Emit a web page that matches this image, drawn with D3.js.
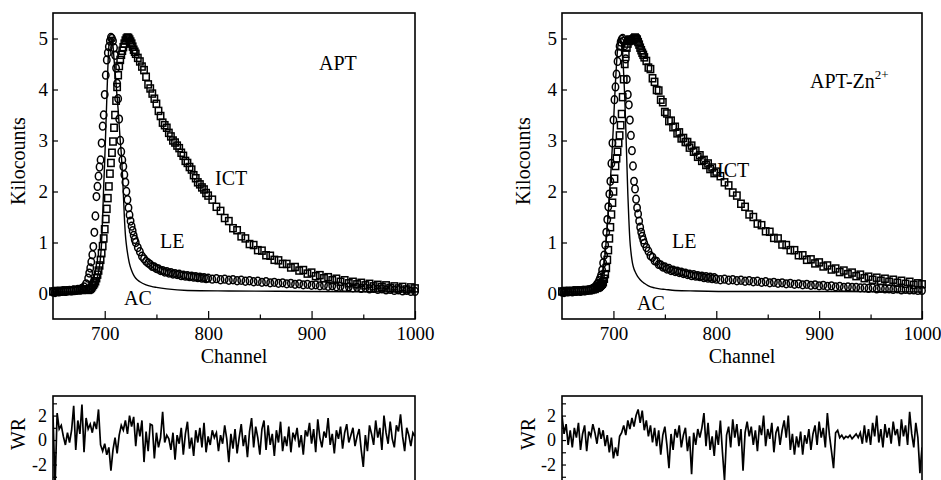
<!DOCTYPE html>
<html>
<head>
<meta charset="utf-8">
<script src="https://cdn.jsdelivr.net/npm/d3@7"></script>
<style>
  body { margin: 0; background: #fff; }
  svg { display: block; }
  svg text { font-family: "Liberation Serif", "Times New Roman", serif !important; }
</style>
</head>
<body>
<svg id="chart" width="941" height="480"></svg>
<script>
// channel grid of the measured decays (denser around the peak)
const channels = [650,652,654,656,658,660,662,664,666,668,670,672,674,676,678,680,682,684,
  685,686,687,688,689,690,691,692,693,694,695,696,697,698,699,700,701,702,703,704,705,706,707,708,709,
  710,711,712,713,714,715,716,717,718,719,720,721,722,723,724,725,726,727,728,729,730,
  732,734,736,738,740,742,744,746,748,750,752,754,756,758,760,762,764,766,768,770,772,774,776,778,780,
  782,784,786,788,790,792,794,796,798,800,
  804,808,812,816,820,824,828,832,836,840,844,848,852,856,860,864,868,872,876,880,884,888,892,896,900,
  904,908,912,916,920,924,928,932,936,940,944,948,952,956,960,964,968,972,976,980,984,988,992,996,1000];

// APT, kilocounts
const leLeft = [0.03,0.02,0.04,0.03,0.04,0.05,0.04,0.05,0.06,0.05,0.07,0.06,0.08,0.08,0.1,0.13,0.19,0.3,
  0.4,0.5,0.62,0.76,0.92,1.2,1.52,1.9,2.1,2.3,2.48,2.62,2.95,3.28,3.5,3.9,4.28,4.58,4.72,4.84,4.95,5.02,5.0,
  4.95,4.82,4.67,4.42,4.12,3.82,3.42,3.0,2.78,2.62,2.49,2.33,2.18,2.0,1.84,1.68,1.54,1.42,1.32,1.23,1.14,1.06,1.0,
  0.9,0.82,0.73,0.68,0.63,0.6,0.57,0.53,0.52,0.49,0.48,0.45,0.45,0.42,0.43,0.4,0.41,0.38,0.39,0.37,0.38,0.35,
  0.36,0.34,0.35,0.33,0.34,0.32,0.33,0.31,0.32,0.3,0.31,0.29,0.3,
  0.28,0.29,0.27,0.28,0.26,0.27,0.25,0.26,0.24,0.25,0.23,0.24,0.22,0.23,0.21,0.22,0.2,0.21,0.19,0.2,0.18,0.19,
  0.17,0.18,0.16,0.17,0.15,0.16,0.14,0.15,0.13,0.14,0.12,0.13,0.11,0.12,0.1,0.11,0.09,0.1,0.08,0.09,0.07,0.08,
  0.06,0.07,0.05,0.06,0.04,0.04];
const ictLeft = [0.04,0.03,0.05,0.04,0.05,0.04,0.06,0.05,0.06,0.05,0.06,0.07,0.06,0.07,0.07,0.08,0.08,0.07,
  0.08,0.09,0.11,0.14,0.17,0.2,0.24,0.3,0.37,0.45,0.55,0.66,0.79,0.93,1.08,1.26,1.46,1.66,1.87,2.1,
  2.35,2.56,2.76,2.98,3.25,3.5,3.78,4.05,4.28,4.46,4.58,4.68,4.76,4.83,4.9,4.96,5.0,5.02,5.01,4.98,
  4.94,4.9,4.84,4.78,4.74,4.7,
  4.62,4.55,4.45,4.38,4.25,4.1,4.02,3.92,3.82,3.72,3.58,3.48,3.35,3.3,3.25,3.15,3.08,3.0,2.96,2.9,
  2.85,2.76,2.7,2.6,2.56,2.48,2.43,2.32,2.26,2.18,2.14,2.08,2.04,1.97,1.92,
  1.84,1.7,1.62,1.48,1.42,1.28,1.24,1.12,1.08,0.97,0.95,0.85,0.84,0.75,0.74,0.66,0.65,0.58,0.58,0.51,
  0.52,0.45,0.46,0.39,0.41,0.34,0.36,0.3,0.32,0.26,0.29,0.23,0.26,0.2,0.23,0.18,0.21,0.16,0.19,0.14,
  0.17,0.13,0.16,0.11,0.14,0.1,0.13,0.08,0.12,0.1];

// APT-Zn2+, kilocounts
const leRight = [0.03,0.02,0.04,0.03,0.04,0.03,0.05,0.04,0.05,0.04,0.06,0.05,0.06,0.07,0.08,0.1,0.13,0.18,
  0.2,0.25,0.3,0.36,0.46,0.6,0.75,0.95,1.2,1.45,1.7,1.95,2.2,2.55,2.95,3.4,3.8,4.05,4.3,4.55,4.72,4.85,
  4.93,4.98,5.0,4.95,4.86,4.6,4.2,3.9,3.7,3.4,3.1,2.8,2.5,2.2,2.05,1.85,1.68,1.56,1.42,1.3,1.2,1.12,1.05,0.98,
  0.9,0.83,0.74,0.71,0.64,0.63,0.57,0.56,0.52,0.52,0.48,0.49,0.45,0.46,0.43,0.44,0.41,0.42,0.39,0.4,
  0.37,0.38,0.35,0.37,0.34,0.35,0.33,0.34,0.31,0.33,0.3,0.32,0.29,0.31,0.28,
  0.27,0.28,0.26,0.27,0.25,0.26,0.24,0.25,0.23,0.24,0.22,0.23,0.21,0.22,0.2,0.21,0.19,0.2,0.18,0.19,
  0.17,0.18,0.16,0.17,0.15,0.16,0.14,0.15,0.13,0.14,0.12,0.13,0.12,0.12,0.11,0.11,0.1,0.11,0.09,0.1,
  0.09,0.09,0.08,0.09,0.07,0.08,0.07,0.07,0.06,0.06];
const ictRight = [0.04,0.03,0.05,0.04,0.05,0.04,0.05,0.06,0.05,0.06,0.05,0.06,0.07,0.06,0.07,0.08,0.09,0.11,
  0.12,0.13,0.15,0.17,0.19,0.22,0.29,0.38,0.5,0.66,0.85,1.08,1.3,1.55,1.78,2.0,2.25,2.5,2.65,2.78,
  2.95,3.1,3.3,3.52,3.85,4.2,4.5,4.7,4.82,4.9,4.95,4.98,4.97,4.96,4.98,5.0,5.02,5.0,4.98,4.93,
  4.88,4.82,4.77,4.72,4.68,4.63,
  4.56,4.43,4.4,4.22,4.15,3.99,3.98,3.8,3.75,3.56,3.53,3.38,3.39,3.26,3.27,3.14,3.16,3.04,3.05,2.97,
  2.97,2.86,2.9,2.78,2.8,2.68,2.71,2.6,2.62,2.52,2.55,2.44,2.47,2.36,2.39,
  2.3,2.18,2.12,1.98,1.92,1.76,1.7,1.55,1.5,1.37,1.34,1.22,1.21,1.09,1.08,0.96,0.95,0.85,0.85,0.75,
  0.75,0.66,0.67,0.59,0.61,0.53,0.55,0.47,0.49,0.42,0.45,0.38,0.41,0.34,0.37,0.3,0.33,0.27,0.31,0.25,
  0.29,0.23,0.27,0.21,0.25,0.19,0.23,0.17,0.2,0.18];

// instrument response (AC) curves
const acChannels = [650,670,680,685,688,690,692,694,696,697,698,699,700,701,702,703,704,705,706,707,
  708,709,710,711,712,713,714,715,716,717,718,719,720,721,722,723,724,726,728,730,734,740,745,750,760,780,820,900,1000];
const acLeft = [0.03,0.03,0.04,0.06,0.1,0.16,0.26,0.42,0.72,1.0,1.5,2.1,2.6,3.2,3.8,4.4,4.85,5.0,5.0,4.95,
  4.85,4.6,4.35,4.1,3.85,3.6,3.3,3.0,2.75,2.4,1.97,1.5,1.15,0.95,0.8,0.68,0.58,0.45,0.36,0.3,0.23,0.17,0.14,0.12,0.09,0.06,0.05,0.04,0.03];
const acRight = [0.03,0.03,0.05,0.12,0.28,0.45,0.8,1.3,1.9,2.2,2.55,2.9,3.3,3.75,4.15,4.5,4.78,4.93,5.0,4.98,
  4.88,4.65,4.3,3.85,3.25,2.6,1.95,1.45,1.05,0.82,0.66,0.55,0.48,0.43,0.39,0.35,0.32,0.27,0.23,0.2,0.15,0.11,0.09,0.08,0.06,0.05,0.04,0.04,0.03];

// weighted residuals
const resChannels = [650,652,654,656,658,660,662,664,666,668,670,672,674,676,678,680,682,684,686,688,
  690,692,694,696,698,700,702,704,706,708,710,712,714,716,718,720,722,724,726,728,
  730,732,734,736,738,740,742,744,746,748,750,752,754,756,758,760,762,764,766,768,
  770,772,774,776,778,780,782,784,786,788,790,792,794,796,798,800,802,804,806,808,
  810,812,814,816,818,820,822,824,826,828,830,832,834,836,838,840,842,844,846,848,
  850,852,854,856,858,860,862,864,866,868,870,872,874,876,878,880,882,884,886,888,
  890,892,894,896,898,900,902,904,906,908,910,912,914,916,918,920,922,924,926,928,
  930,932,934,936,938,940,942,944,946,948,950,952,954,956,958,960,962,964,966,968,
  970,972,974,976,978,980,982,984,986,988,990,992,994,996,998,1000];
const resLeft = [2.0,-3.8,2.2,0.9,1.2,0.3,-0.4,0.6,-0.2,0.8,2.8,-0.8,1.6,0.5,2.9,-1.0,1.8,0.9,1.3,0.6,
  1.5,0.9,2.5,-0.4,-0.9,-0.3,-1.2,-0.6,-2.5,-0.8,0.2,-1.1,0.4,1.2,0.8,1.6,0.5,2.0,1.1,1.9,
  -0.5,1.4,0.3,1.6,-1.8,0.7,-0.9,1.3,1.2,-1.5,0.6,-0.6,0.2,2.3,-0.2,0.4,0.1,-0.8,0.6,-1.6,
  0.4,-0.3,1.0,-1.2,0.5,1.5,-0.7,0.2,-1.3,0.8,-0.2,1.0,-0.6,1.4,-1.0,0.3,-0.4,0.8,0.2,0.6,
  -0.9,0.4,-0.3,1.2,0.1,-1.8,0.5,-0.7,0.9,-1.1,0.2,1.3,-0.5,0.4,-1.4,0.7,1.8,-0.6,1.1,0.2,
  -1.2,0.9,1.6,-0.8,1.2,-0.4,0.5,-1.3,0.8,-0.2,1.5,-0.9,0.3,-0.5,1.1,-1.0,0.6,0.1,1.0,-0.6,
  0.4,-1.2,0.8,0.3,1.4,-0.3,0.9,-1.0,1.7,0.2,-0.6,0.7,0.2,1.8,-0.4,0.5,-1.1,0.8,0.1,1.1,
  -0.7,0.6,1.3,-0.2,0.4,1.0,-0.5,0.3,0.9,-0.8,-2.2,0.4,-0.9,1.2,0.5,-0.4,1.6,0.2,1.0,-0.8,
  2.0,0.6,-0.3,1.5,0.1,-0.6,1.2,0.7,2.1,0.3,-0.9,1.0,0.4,-0.5,0.6,0.3];
const resRight = [2.0,0.5,1.3,-0.4,0.8,-0.6,1.0,0.2,1.4,-0.8,0.5,1.2,-0.9,0.7,0.3,1.3,0.6,-0.3,1.0,0.1,
  0.8,-0.5,0.4,-1.0,0.2,-1.5,-0.6,-1.3,0.3,0.6,1.2,0.4,1.6,0.9,1.8,1.1,2.0,2.5,1.4,2.4,
  0.8,1.6,0.3,1.2,-0.2,1.0,-0.5,0.8,-1.2,0.4,1.1,-0.4,-2.3,0.5,-0.8,0.9,0.2,1.2,-0.6,0.4,
  1.0,-0.9,0.3,-2.8,0.6,-0.4,0.9,0.2,1.0,2.2,-0.5,1.4,-0.8,0.3,-1.3,0.8,-0.4,1.6,-1.0,-3.3,
  0.4,1.1,-0.6,1.7,0.2,1.3,-0.5,0.9,-2.5,0.6,1.5,0.3,1.1,-0.4,0.8,-0.9,1.2,0.4,2.0,-0.5,
  0.9,0.1,1.4,-1.0,0.6,1.1,-0.4,0.8,1.6,0.2,2.0,-0.8,0.5,-1.2,0.3,-0.6,0.7,-1.2,0.4,-0.3,
  0.9,-0.8,0.5,1.2,-0.4,1.5,0.2,1.0,-0.6,2.2,0.4,-0.9,-2.3,0.6,0.8,0.2,0.4,0.1,0.3,0.2,
  0.4,0.1,0.3,0.5,0.2,0.6,-0.3,1.2,-0.2,0.9,-0.4,1.4,0.3,2.0,-0.2,0.9,-0.6,1.3,0.2,1.0,
  -0.3,1.5,0.4,0.9,-0.5,1.7,0.3,1.2,-0.4,2.3,0.5,-0.6,1.4,0.2,-2.7,-0.6];

const xTicks = [700, 800, 900, 1000];
const xMinorTicks = [750, 850, 950];
const yTicks = [0, 1, 2, 3, 4, 5];
const wrTicks = [-2, 0, 2];
const wrMinorTicks = [-4, -3, -1, 1, 3];

const panels = [
  { x0: 53, x1: 415, le: leLeft, ict: ictLeft, ac: acLeft, wr: resLeft, kiloX: 18, wrX: 18,
    title: { text: "APT", x: 319, y: 70 },
    notes: [{ text: "ICT", x: 215, y: 185 }, { text: "LE", x: 160, y: 248 }, { text: "AC", x: 124, y: 305 }] },
  { x0: 562, x1: 922, le: leRight, ict: ictRight, ac: acRight, wr: resRight, kiloX: 523, wrX: 528,
    title: { text: "APT-Zn", sup: "2+", x: 810, y: 88 },
    notes: [{ text: "ICT", x: 717, y: 177 }, { text: "LE", x: 672, y: 248 }, { text: "AC", x: 637, y: 310 }] }
];

const svg = d3.select("#chart");
const serif = "'Liberation Serif', 'Times New Roman', serif";
const mainTop = 13, mainBottom = 319;
const wrTop = 396, wrBottom = 489;

function styleAxis(g, size) {
  g.select(".domain").remove();
  g.attr("font-family", serif);
  g.selectAll("line").attr("stroke", "#000").attr("stroke-width", 1.2);
  g.selectAll("text").attr("fill", "#000").attr("font-size", size).style("font-family", serif);
}

const plain = d => String(d);

panels.forEach((p, i) => {
  const x = d3.scaleLinear().domain([650, 1000]).range([p.x0, p.x1]);
  const y = d3.scaleLinear().domain([-0.5, 5.5]).range([mainBottom, mainTop]);
  const yr = d3.scaleLinear().domain([-4, 3.6]).range([wrBottom, wrTop]);
  const g = svg.append("g");

  // ---- decay panel ----
  g.append("g").attr("transform", `translate(0,${mainBottom})`)
    .call(d3.axisBottom(x).tickValues(xTicks).tickSize(-8).tickPadding(8).tickFormat(plain))
    .call(a => styleAxis(a, 19));
  g.append("g").attr("transform", `translate(0,${mainBottom})`)
    .call(d3.axisBottom(x).tickValues(xMinorTicks).tickSize(-4.5).tickFormat(""))
    .call(a => styleAxis(a, 19));
  g.append("g").attr("transform", `translate(${p.x0},0)`)
    .call(d3.axisLeft(y).tickValues(yTicks).tickSize(-5).tickPadding(5).tickFormat(plain))
    .call(a => styleAxis(a, 19));

  const clipId = "clip" + i;
  svg.append("clipPath").attr("id", clipId)
    .append("rect").attr("x", p.x0).attr("y", wrTop).attr("width", p.x1 - p.x0).attr("height", wrBottom - wrTop);

  const acLine = d3.line().x(d => x(d[0])).y(d => y(d[1])).curve(d3.curveMonotoneX);
  g.append("path").datum(d3.zip(acChannels, p.ac))
    .attr("d", acLine).attr("fill", "none").attr("stroke", "#000").attr("stroke-width", 1.4);

  g.append("g").selectAll("rect")
    .data(d3.zip(channels, p.ict))
    .join("rect")
    .attr("x", d => x(d[0]) - 3.2)
    .attr("y", d => y(d[1]) - 3.5)
    .attr("width", 6.4)
    .attr("height", 7)
    .attr("fill", "none")
    .attr("stroke", "#000")
    .attr("stroke-width", 1.5);

  g.append("g").selectAll("ellipse")
    .data(d3.zip(channels, p.le))
    .join("ellipse")
    .attr("cx", d => x(d[0]))
    .attr("cy", d => y(d[1]))
    .attr("rx", 3.2)
    .attr("ry", 3.9)
    .attr("fill", "none")
    .attr("stroke", "#000")
    .attr("stroke-width", 1.5);

  g.append("rect").attr("x", p.x0).attr("y", mainTop)
    .attr("width", p.x1 - p.x0).attr("height", mainBottom - mainTop)
    .attr("fill", "none").attr("stroke", "#000").attr("stroke-width", 1.6);

  g.append("text").attr("x", (p.x0 + p.x1) / 2).attr("y", 363)
    .attr("text-anchor", "middle").attr("font-size", 20).text("Channel");
  g.append("text").attr("transform", `translate(${p.kiloX},161) rotate(-90)`)
    .attr("text-anchor", "middle").attr("dominant-baseline", "central")
    .attr("font-size", 20).text("Kilocounts");

  const t = g.append("text").attr("x", p.title.x).attr("y", p.title.y).attr("font-size", 20);
  t.append("tspan").text(p.title.text);
  if (p.title.sup) t.append("tspan").attr("font-size", 13).attr("dy", -9).text(p.title.sup);

  p.notes.forEach(n => {
    g.append("text").attr("x", n.x).attr("y", n.y).attr("font-size", 20).text(n.text);
  });

  // ---- residual panel ----
  g.append("g").attr("transform", `translate(${p.x0},0)`)
    .call(d3.axisLeft(yr).tickValues(wrTicks).tickSize(-4).tickPadding(6).tickFormat(plain))
    .call(a => styleAxis(a, 18));
  g.append("g").attr("transform", `translate(${p.x0},0)`)
    .call(d3.axisLeft(yr).tickValues(wrMinorTicks).tickSize(-4).tickFormat(""))
    .call(a => styleAxis(a, 18));

  const wrLine = d3.line().x(d => x(d[0])).y(d => yr(d[1]));
  g.append("path").datum(d3.zip(resChannels, p.wr))
    .attr("clip-path", `url(#${clipId})`)
    .attr("d", wrLine).attr("fill", "none").attr("stroke", "#000").attr("stroke-width", 1.7);

  g.append("rect").attr("x", p.x0).attr("y", wrTop)
    .attr("width", p.x1 - p.x0).attr("height", wrBottom - wrTop)
    .attr("fill", "none").attr("stroke", "#000").attr("stroke-width", 1.6);

  g.append("text").attr("transform", `translate(${p.wrX},434) rotate(-90)`)
    .attr("text-anchor", "middle").attr("dominant-baseline", "central")
    .attr("font-size", 20).text("WR");
});
</script>
</body>
</html>
